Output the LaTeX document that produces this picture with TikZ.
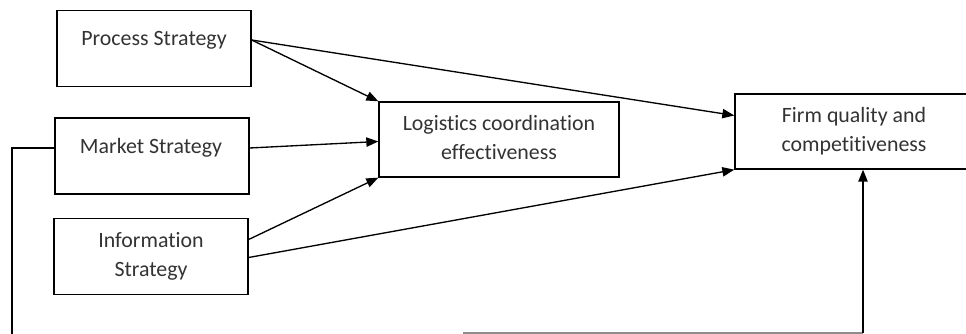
\documentclass[tikz,border=0pt]{standalone}
\usepackage{fontspec}
\setmainfont{Carlito}[Ligatures=NoCommon]
\usetikzlibrary{arrows.meta,calc}
\newcommand{\px}{0.75pt}

\begin{document}
\begin{tikzpicture}[x=\px, y=-\px,
    rect/.style={draw, rectangle, line width=1pt, inner sep=0pt, minimum width=194*\px, minimum height=76*\px},
    wide/.style={rect, minimum width=240*\px, minimum height=75*\px},
    txt/.style={align=center, inner sep=0pt, text=black!80, font=\fontsize{16.4pt}{21.75pt}\selectfont},
    arr/.style={line width=1pt, -{Triangle[length=9pt, width=7pt]}},
    link/.style={line width=1pt}]
    \useasboundingbox (0,0) rectangle (966,334);
    \clip (0,0) rectangle (966,334);

    % Strategies
    \node[rect] (process) at (154,48.5) {};
    \node[txt] (process-text) at (154,40) {Process Strategy};
    \node[rect] (market) at (152,156) {};
    \node[txt] (market-text) at (151,148) {Market Strategy};
    \node[rect] (info) at (151,256.5) {};
    \node[txt] (info-text) at (151,256.5) {Information\\Strategy};

    % Outcomes
    \node[wide] (logistics) at (499,139.5) {};
    \node[txt] (logistics-text) at (499,137.5) {Logistics coordination\\effectiveness};
    \node[wide, minimum width=238*\px] (firm) at (854,131.5) {};
    \node[txt] (firm-text) at (854,131.5) {Firm quality and\\competitiveness};

    % Arrows
    \draw[arr] (process-text -| process.east) -- (logistics.north west);
    \draw[arr] (process-text -| process.east) -- ($(firm.west)+(0,-16)$);
    \draw[arr] (market-text -| market.east) -- ($(logistics.west)+(0,2)$);
    \draw[arr] ($(info.east)+(0,-17)$) -- (logistics.south west);
    \draw[arr] ($(info.east)+(0,1)$) -- (firm.south west);

    % Feedback line
    \coordinate (left-bottom) at (12,334);
    \coordinate (right-start) at (463,333);
    \coordinate (right-corner) at (863,333);
    \draw[link] (market-text -| market.west) -| (left-bottom);
    \draw[link, black!45] (right-start) -- (right-corner);
    \draw[arr] (right-corner) -- (right-corner |- firm.south);
\end{tikzpicture}
\end{document}
